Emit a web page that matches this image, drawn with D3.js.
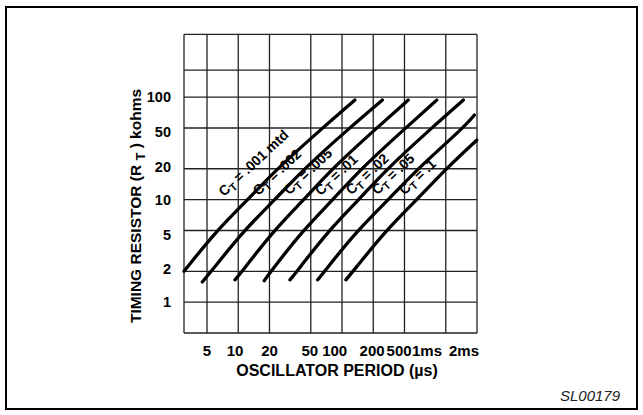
<!DOCTYPE html>
<html>
<head>
<meta charset="utf-8">
<script src="https://cdn.jsdelivr.net/npm/d3@7/dist/d3.min.js"></script>
<style>
  body { margin: 0; background: #fff; }
  svg { display: block; font-family: "Liberation Sans", Arial, sans-serif; }
</style>
</head>
<body>
<div id="chart"></div>
<script>
// grid lines (period in µs, resistor in kohms)
const xGrid = [3, 5, 10, 20, 50, 100, 200, 400, 1000, 2000];
const yGrid = [0.5, 1, 2, 5, 10, 20, 50, 100, 183, 410];

const xTickLabels = ["5", "10", "20", "50", "100", "200", "500", "1ms", "2ms"];
const xTickAt = [5, 9.3, 20, 49, 85, 195, 355, 660, 1500];
const yTickLabels = ["100", "50", "20", "10", "5", "2", "1"];
const yTickAt = [100, 46, 21, 10, 4.5, 2.1, 1];

// one curve per timing capacitor: [period µs, R kohms]
const ctLabels = [".001 mtd", ".002", ".005", ".01", ".02", ".05", ".1"];
const curve001 = [[3, 2], [6.2, 5], [12.4, 10], [23.6, 20], [65, 50], [133, 93.5]];
const curve002 = [[4.5, 1.57], [5.5, 2], [11.3, 5], [22.6, 10], [43, 20], [118, 50], [245, 93.5]];
const curve005 = [[9.3, 1.65], [10.9, 2], [22, 5], [43, 10], [80, 20], [216, 50], [435, 93.5]];
const curve01 = [[17.8, 1.62], [20.7, 2], [41.8, 5], [82, 10], [152, 20], [411, 50], [818, 93.5]];
const curve02 = [[31.5, 1.65], [36.8, 2], [74.4, 5], [146, 10], [271, 20], [732, 50], [1477, 93.5]];
const curve05 = [[58.3, 1.65], [67.8, 2], [140, 5], [281, 10], [534, 20], [1473, 50], [1885, 66.8]];
const curve1 = [[109, 1.65], [128, 2], [264, 5], [528, 10], [1005, 20], [1987, 38]];
const ctLabelAt = [[7.3, 10.6], [15.6, 10.8], [31, 11], [62, 10.8], [123, 11], [219, 11], [400, 11]];

const curves = [curve001, curve002, curve005, curve01, curve02, curve05, curve1];

const width = 643;
const height = 415;

const svg = d3
  .select("#chart")
  .append("svg")
  .attr("width", width)
  .attr("height", height);

svg
  .append("rect")
  .attr("x", 6)
  .attr("y", 7)
  .attr("width", 631)
  .attr("height", 402)
  .attr("fill", "none")
  .attr("stroke", "#000")
  .attr("stroke-width", 2);

const x = d3.scaleLog().domain([3, 2000]).range([184, 477]);
const y = d3.scaleLog().domain([0.5, 410]).range([333, 34.3]);

const grid = svg.append("g").attr("stroke", "#222").attr("stroke-width", 1.3);

grid
  .selectAll("line.v")
  .data(xGrid)
  .join("line")
  .attr("class", "v")
  .attr("x1", (d) => x(d))
  .attr("x2", (d) => x(d))
  .attr("y1", y.range()[0])
  .attr("y2", y.range()[1]);

grid
  .selectAll("line.h")
  .data(yGrid)
  .join("line")
  .attr("class", "h")
  .attr("x1", x.range()[0])
  .attr("x2", x.range()[1])
  .attr("y1", (d) => y(d))
  .attr("y2", (d) => y(d));

svg
  .append("g")
  .selectAll("text")
  .data(xTickLabels)
  .join("text")
  .attr("x", (d, i) => x(xTickAt[i]))
  .attr("y", 356)
  .attr("text-anchor", "middle")
  .attr("font-size", 15)
  .attr("font-weight", "bold")
  .text((d) => d);

svg
  .append("g")
  .selectAll("text")
  .data(yTickLabels)
  .join("text")
  .attr("x", 171)
  .attr("y", (d, i) => y(yTickAt[i]))
  .attr("dy", "0.36em")
  .attr("text-anchor", "end")
  .attr("font-size", 14.5)
  .attr("font-weight", "bold")
  .text((d) => d);

svg
  .append("text")
  .attr("x", 337)
  .attr("y", 376)
  .attr("text-anchor", "middle")
  .attr("font-size", 16)
  .attr("font-weight", "bold")
  .text("OSCILLATOR PERIOD (µs)");

const yTitle = svg
  .append("text")
  .attr("transform", "translate(141,206) rotate(-90)")
  .attr("text-anchor", "middle")
  .attr("font-size", 15.5)
  .attr("font-weight", "bold");
yTitle.append("tspan").text("TIMING RESISTOR (R ");
yTitle.append("tspan").attr("font-size", 13).attr("dy", 4).text("T");
yTitle.append("tspan").attr("dy", -4).text(" ) kohms");

const line = d3
  .line()
  .x((d) => x(d[0]))
  .y((d) => y(d[1]))
  .curve(d3.curveBasis);

svg
  .append("g")
  .selectAll("path")
  .data(curves)
  .join("path")
  .attr("d", line)
  .attr("fill", "none")
  .attr("stroke", "#000")
  .attr("stroke-width", 3.3)
  .attr("stroke-linecap", "round");

ctLabels.forEach((label, i) => {
  const [px, py] = ctLabelAt[i];
  const t = svg
    .append("text")
    .attr("transform", `translate(${x(px)},${y(py)}) rotate(-43)`)
    .attr("font-size", 14)
    .attr("font-weight", "bold");
  t.append("tspan").text("C");
  t.append("tspan").attr("font-size", 11).attr("dy", 3).text("T");
  t.append("tspan").attr("dy", -3).text(" = " + label);
});

svg
  .append("text")
  .attr("x", 620)
  .attr("y", 401)
  .attr("text-anchor", "end")
  .attr("font-size", 15)
  .attr("font-style", "italic")
  .attr("fill", "#222")
  .text("SL00179");
</script>
</body>
</html>
